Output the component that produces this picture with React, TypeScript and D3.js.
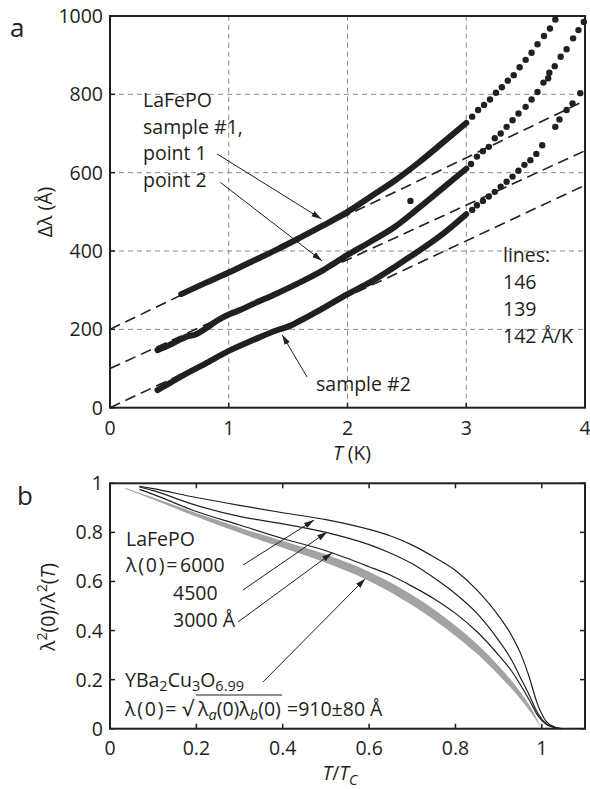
import React from "react";
import * as d3 from "d3";

const W = 590;
const H = 789;
const FONT = "'Open Sans', 'Noto Sans', sans-serif";
const INK = "#231f20";

// ---------------- panel a data ----------------
const tempTicks = [0, 1, 2, 3, 4];
const dlTicks = [0, 200, 400, 600, 800, 1000];
const gridT = [1, 2, 3];
const gridDl = [200, 400, 600, 800];
const fitIntercepts = [200, 100, 0];
const fitSlopes = [146, 139, 142];

const s1DenseT = [0.6, 0.8, 1.0, 1.2, 1.4, 1.6, 1.8, 2.0, 2.2, 2.4, 2.6, 2.8, 3.0];
const s1DenseV = [290, 318, 345, 374, 403, 434, 466, 500, 540, 580, 626, 676, 727];
const s1DotsT = [3.05, 3.1, 3.15, 3.2, 3.25, 3.3, 3.35, 3.4, 3.45, 3.5, 3.55, 3.6, 3.655, 3.705, 3.75];
const s1DotsV = [743, 760, 773, 787, 804, 818, 835, 849, 869, 888, 906, 928, 949, 968, 991];

const s2DenseT = [0.4, 0.5, 0.6, 0.65, 0.72, 0.8, 0.9, 1.0, 1.1, 1.2, 1.4, 1.6, 1.8, 2.0, 2.2, 2.4, 2.6, 2.8, 3.0];
const s2DenseV = [147, 160, 175, 182, 187, 201, 222, 238, 250, 264, 291, 320, 352, 390, 425, 462, 510, 560, 610];
const s2DotsT = [3.04, 3.09, 3.14, 3.19, 3.24, 3.29, 3.34, 3.39, 3.44, 3.5, 3.55, 3.6, 3.65, 3.69, 3.7, 3.745, 3.795, 3.845, 3.9, 3.945, 3.99];
const s2DotsV = [622, 641, 655, 666, 688, 700, 717, 734, 751, 768, 787, 806, 830, 841, 855, 872, 896, 915, 943, 964, 985];
const s2OutlierT = [2.53];
const s2OutlierV = [528];

const s3DenseT = [0.4, 0.5, 0.6, 0.8, 1.0, 1.2, 1.4, 1.5, 1.6, 1.8, 2.0, 2.2, 2.4, 2.5, 2.6, 2.8, 3.0];
const s3DenseV = [45, 62, 80, 112, 145, 172, 197, 207, 222, 255, 290, 322, 360, 380, 400, 443, 494];
const s3DotsT = [3.05, 3.09, 3.14, 3.19, 3.24, 3.29, 3.34, 3.39, 3.44, 3.49, 3.54, 3.59, 3.64, 3.75, 3.785, 3.845, 3.895, 3.96];
const s3DotsV = [505, 517, 528, 539, 551, 564, 577, 590, 605, 620, 632, 648, 670, 717, 736, 760, 777, 803];

// arrows in panel a (data units): [fromT, fromV, toT, toV]
const arrowsA = [
  [0.9, 648, 1.78, 482],
  [0.93, 575, 1.785, 375],
  [1.66, 78, 1.45, 186],
];

// ---------------- panel b data ----------------
const ratioTicksX = [0, 0.2, 0.4, 0.6, 0.8, 1];
const ratioTicksY = [0, 0.2, 0.4, 0.6, 0.8, 1];
const tRed = [0.068, 0.1, 0.2, 0.3, 0.4, 0.5, 0.6, 0.65, 0.7, 0.75, 0.8, 0.85, 0.9, 0.93, 0.95, 0.97, 0.99, 1.01, 1.03, 1.045];
const rho6000 = [0.988, 0.978, 0.942, 0.91, 0.88, 0.852, 0.812, 0.785, 0.748, 0.7, 0.645, 0.565, 0.46, 0.38, 0.31, 0.215, 0.1, 0.03, 0.007, 0];
const rho4500 = [0.985, 0.97, 0.91, 0.865, 0.835, 0.8, 0.75, 0.715, 0.672, 0.615, 0.55, 0.47, 0.36, 0.28, 0.21, 0.14, 0.065, 0.02, 0.004, 0];
const rho3000 = [0.975, 0.955, 0.885, 0.83, 0.775, 0.725, 0.66, 0.625, 0.58, 0.53, 0.47, 0.395, 0.3, 0.235, 0.18, 0.12, 0.055, 0.018, 0.004, 0];

const ybcoT = [0.035, 0.1, 0.2, 0.3, 0.4, 0.5, 0.6, 0.7, 0.8, 0.85, 0.9, 0.95, 0.975, 1.0];
const ybcoUpper = [0.982, 0.942, 0.879, 0.82, 0.765, 0.71, 0.64, 0.545, 0.42, 0.345, 0.255, 0.15, 0.085, 0.0];
const ybcoLower = [0.978, 0.934, 0.864, 0.798, 0.737, 0.676, 0.602, 0.503, 0.378, 0.305, 0.219, 0.122, 0.065, 0.0];

const arrowsB = [
  [0.308, 0.667, 0.4725, 0.85],
  [0.308, 0.565, 0.5027, 0.8016],
  [0.2965, 0.435, 0.514, 0.716],
  [0.354, 0.19, 0.591, 0.611],
];

// ---------------- scales ----------------
const xA = d3.scaleLinear().domain([0, 4]).range([110, 585]);
const yA = d3.scaleLinear().domain([0, 1000]).range([407.7, 16]);
const xB = d3.scaleLinear().domain([0, 1.1]).range([110, 585]);
const yB = d3.scaleLinear().domain([0, 1]).range([728.7, 483.3]);

const zip = (a: number[], b: number[]) => a.map((v, i) => [v, b[i]] as [number, number]);

export default function App() {
  const lineA = d3
    .line<[number, number]>()
    .x((d) => xA(d[0]))
    .y((d) => yA(d[1]))
    .curve(d3.curveMonotoneX);
  const lineFit = d3.line<[number, number]>().x((d) => xA(d[0])).y((d) => yA(d[1]));
  const lineB = d3
    .line<[number, number]>()
    .x((d) => xB(d[0]))
    .y((d) => yB(d[1]))
    .curve(d3.curveMonotoneX);
  const band = d3
    .area<number>()
    .x((_, i) => xB(ybcoT[i]))
    .y0((_, i) => yB(ybcoLower[i]))
    .y1((_, i) => yB(ybcoUpper[i]))
    .curve(d3.curveMonotoneX);

  const denseSeries = [zip(s1DenseT, s1DenseV), zip(s2DenseT, s2DenseV), zip(s3DenseT, s3DenseV)];
  const dotSeries = [
    zip(s1DotsT, s1DotsV),
    zip(s2DotsT, s2DotsV),
    zip(s2OutlierT, s2OutlierV),
    zip(s3DotsT, s3DotsV),
  ];

  const [a0, a1] = xA.range();
  const aTop = yA(1000);
  const tick = 5;
  const fs = 19.5;
  const sub = 14.5;

  return (
    <svg
      width={W}
      height={H}
      style={{ position: "absolute", left: 0, top: 0, background: "#fff" }}
      fontFamily={FONT}
    >
      <defs>
        <marker
          id="arr"
          viewBox="0 0 10 10"
          refX="10"
          refY="5"
          markerWidth="10"
          markerHeight="10"
          markerUnits="userSpaceOnUse"
          orient="auto"
        >
          <path d="M0,2 L10,5 L0,8 z" fill={INK} />
        </marker>
      </defs>
      <rect width={W} height={H} fill="#fff" />

      {/* ================= PANEL A ================= */}
      <g>
        {gridT.map((t) => (
          <line
            key={"gt" + t}
            x1={xA(t)}
            x2={xA(t)}
            y1={yA(0)}
            y2={yA(1000)}
            stroke="#8a8a8a"
            strokeWidth={1}
            strokeDasharray="5,4"
          />
        ))}
        {gridDl.map((v) => (
          <line
            key={"gd" + v}
            x1={a0}
            x2={a1}
            y1={yA(v)}
            y2={yA(v)}
            stroke="#8a8a8a"
            strokeWidth={1}
            strokeDasharray="5,4"
          />
        ))}
        {fitIntercepts.map((b, i) => (
          <path
            key={"fit" + i}
            d={lineFit([
              [0, b],
              [4, b + fitSlopes[i] * 4],
            ]) as string}
            stroke={INK}
            strokeWidth={1.6}
            strokeDasharray="11,6"
            fill="none"
          />
        ))}
        {denseSeries.map((s, i) => (
          <path
            key={"dense" + i}
            d={lineA(s) as string}
            stroke={INK}
            strokeWidth={6}
            strokeLinecap="round"
            strokeLinejoin="round"
            fill="none"
          />
        ))}
        {dotSeries.map((s, i) =>
          s.map((d, j) => (
            <circle key={"dot" + i + "-" + j} cx={xA(d[0])} cy={yA(d[1])} r={3.2} fill={INK} />
          ))
        )}
        {/* frame */}
        <rect
          x={a0}
          y={aTop}
          width={a1 - a0}
          height={yA(0) - aTop}
          fill="none"
          stroke={INK}
          strokeWidth={2}
        />
        {tempTicks.map((t) => (
          <g key={"xt" + t}>
            <line x1={xA(t)} x2={xA(t)} y1={yA(0)} y2={yA(0) - tick} stroke={INK} strokeWidth={1.5} />
            <text x={xA(t)} y={435} textAnchor="middle" fontSize={fs} fill={INK}>
              {t}
            </text>
          </g>
        ))}
        {dlTicks.map((v) => (
          <g key={"yt" + v}>
            <line x1={a0} x2={a0 + tick} y1={yA(v)} y2={yA(v)} stroke={INK} strokeWidth={1.5} />
            <text x={103} y={yA(v) + 7} textAnchor="end" fontSize={fs} fill={INK}>
              {v}
            </text>
          </g>
        ))}
        {arrowsA.map((a, i) => (
          <line
            key={"aa" + i}
            x1={xA(a[0])}
            y1={yA(a[1])}
            x2={xA(a[2])}
            y2={yA(a[3])}
            stroke={INK}
            strokeWidth={1}
            markerEnd="url(#arr)"
          />
        ))}
        <text x={10} y={37} fontSize={26} fill={INK}>
          a
        </text>
        <g fontSize={fs} fill={INK}>
          <text x={143} y={107}>LaFePO</text>
          <text x={143} y={133.5}>sample #1,</text>
          <text x={143} y={160}>point 1</text>
          <text x={143} y={187}>point 2</text>
          <text x={503} y={262}>lines:</text>
          <text x={503} y={289}>146</text>
          <text x={503} y={316}>139</text>
          <text x={503} y={343}>142 Å/K</text>
          <text x={316} y={391}>sample #2</text>
          <text x={352} y={460} textAnchor="middle">
            <tspan fontStyle="italic">T</tspan> (K)
          </text>
          <text transform="translate(52,212) rotate(-90)" textAnchor="middle">
            Δλ (Å)
          </text>
        </g>
      </g>

      {/* ================= PANEL B ================= */}
      <g>
        <path d={band(ybcoT) as string} fill="#a3a3a5" stroke="none" />
        {[rho6000, rho4500, rho3000].map((r, i) => (
          <path
            key={"rho" + i}
            d={lineB(zip(tRed, r)) as string}
            stroke={INK}
            strokeWidth={1.2}
            fill="none"
          />
        ))}
        <rect
          x={xB(0)}
          y={yB(1)}
          width={xB(1.1) - xB(0)}
          height={yB(0) - yB(1)}
          fill="none"
          stroke={INK}
          strokeWidth={2}
        />
        {ratioTicksX.map((t) => (
          <g key={"bx" + t}>
            <line x1={xB(t)} x2={xB(t)} y1={yB(0)} y2={yB(0) - tick} stroke={INK} strokeWidth={1.5} />
            <line x1={xB(t)} x2={xB(t)} y1={yB(1)} y2={yB(1) + tick} stroke={INK} strokeWidth={1.5} />
            <text x={xB(t)} y={755} textAnchor="middle" fontSize={fs} fill={INK}>
              {t}
            </text>
          </g>
        ))}
        {ratioTicksY.map((v) => (
          <g key={"by" + v}>
            <line x1={xB(0)} x2={xB(0) + tick} y1={yB(v)} y2={yB(v)} stroke={INK} strokeWidth={1.5} />
            <line x1={xB(1.1)} x2={xB(1.1) - tick} y1={yB(v)} y2={yB(v)} stroke={INK} strokeWidth={1.5} />
            <text x={103} y={yB(v) + 7} textAnchor="end" fontSize={fs} fill={INK}>
              {v}
            </text>
          </g>
        ))}
        {arrowsB.map((a, i) => (
          <line
            key={"ab" + i}
            x1={xB(a[0])}
            y1={yB(a[1])}
            x2={xB(a[2])}
            y2={yB(a[3])}
            stroke={INK}
            strokeWidth={1}
            markerEnd="url(#arr)"
          />
        ))}
        <text x={17} y={505} fontSize={26} fill={INK}>
          b
        </text>
        <g fontSize={fs} fill={INK}>
          <text x={126} y={546}>LaFePO</text>
          <text x={126} y={572}>
            <tspan letterSpacing={1.8}>λ(0)=</tspan>
            <tspan x={180}>6000</tspan>
          </text>
          <text x={173} y={600}>4500</text>
          <text x={173} y={627}>3000 Å</text>
          <text x={125} y={687}>
            YBa<tspan dy={4} fontSize={sub}>2</tspan>
            <tspan dy={-4}>Cu</tspan>
            <tspan dy={4} fontSize={sub}>3</tspan>
            <tspan dy={-4}>O</tspan>
            <tspan dy={4} fontSize={sub}>6.99</tspan>
          </text>
          <line x1={196} x2={282} y1={695} y2={695} stroke={INK} strokeWidth={1.2} />
          <text x={125} y={716}>
            <tspan letterSpacing={1.8}>λ(0)=</tspan>
            <tspan x={182} fontSize={21}>√</tspan>
            <tspan x={198}>λ</tspan>
            <tspan dy={4} fontSize={sub} fontStyle="italic">a</tspan>
            <tspan dy={-4}>(0)λ</tspan>
            <tspan dy={4} fontSize={sub} fontStyle="italic">b</tspan>
            <tspan dy={-4}>(0)</tspan>
            <tspan x={287}>=910±80 Å</tspan>
          </text>
          <text x={340} y={780} textAnchor="middle">
            <tspan fontStyle="italic">T</tspan>/<tspan fontStyle="italic">T</tspan>
            <tspan dy={5} fontSize={sub} fontStyle="italic">C</tspan>
          </text>
          <text transform="translate(55,607) rotate(-90)" textAnchor="middle">
            λ<tspan dy={-8} fontSize={14}>2</tspan>
            <tspan dy={8}>(0)/λ</tspan>
            <tspan dy={-8} fontSize={14}>2</tspan>
            <tspan dy={8}>(</tspan>
            <tspan fontStyle="italic">T</tspan>
            <tspan>)</tspan>
          </text>
        </g>
      </g>
    </svg>
  );
}
